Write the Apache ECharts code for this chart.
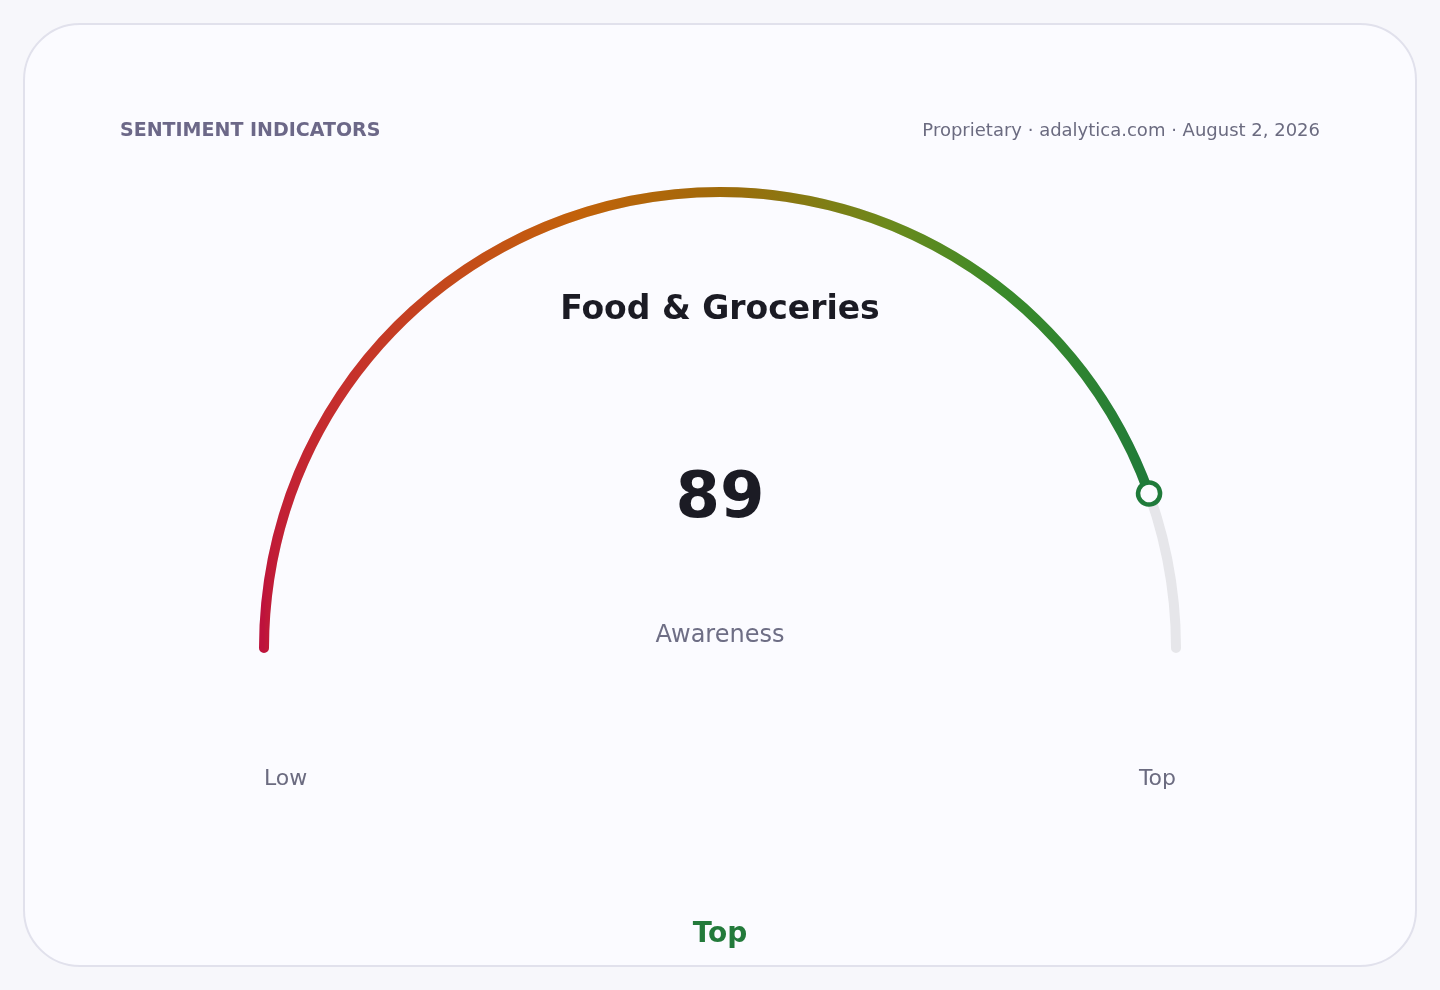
<!DOCTYPE html>
<html>
<head>
<meta charset="utf-8">
<script src="https://cdn.jsdelivr.net/npm/echarts@6/dist/echarts.min.js"></script>
<style>
  html, body { margin: 0; padding: 0; background: #f7f7fb; }
  #chart { width: 1440px; height: 990px; }
</style>
</head>
<body>
<div id="chart"></div>
<script>
// ---- data ----
const gaugeValues = [89];
const gaugeNames = ['Awareness'];
const gaugeMin = 0;
const gaugeMax = 100;
const rangeLabels = ['Low', 'Top'];
const chartTitle = ['Food & Groceries'];
const headerLeft = ['SENTIMENT INDICATORS'];
const headerRight = ['Proprietary · adalytica.com · August 2, 2026'];
const verdictLabels = ['Top'];

// ---- style ----
const FONT = '"DejaVu Sans", "Noto Sans", sans-serif';
const CX = 720, CY = 648, R = 456, LW = 10;
const colorAnchors = [
  [0.00, [190, 18, 60]],
  [0.22, [198, 48, 44]],
  [0.45, [194, 98, 10]],
  [0.56, [160, 106, 10]],
  [0.70, [106, 138, 28]],
  [0.80, [58, 138, 42]],
  [1.00, [31, 122, 58]]
];
function colorAt(f) {
  for (let i = 1; i < colorAnchors.length; i++) {
    const a = colorAnchors[i - 1], b = colorAnchors[i];
    if (f <= b[0]) {
      const t = (f - a[0]) / (b[0] - a[0]);
      const c = a[1].map((v, k) => Math.round(v + (b[1][k] - v) * t));
      return 'rgb(' + c.join(',') + ')';
    }
  }
  const c = colorAnchors[colorAnchors.length - 1][1];
  return 'rgb(' + c.join(',') + ')';
}
// angular gradient along the progress arc, expressed as a global horizontal gradient
const frac = (gaugeValues[0] - gaugeMin) / (gaugeMax - gaugeMin);
const x0 = CX - R;
const x1 = CX + R * Math.cos(Math.PI * (1 - frac));
const stops = [];
for (let i = 0; i <= 80; i++) {
  const f = i / 80;
  const th = Math.PI * (1 - f * frac);
  const x = CX + R * Math.cos(th);
  stops.push({ offset: Math.min(1, Math.max(0, (x - x0) / (x1 - x0))), color: colorAt(f) });
}
const progressGradient = new echarts.graphic.LinearGradient(x0, 0, x1, 0, stops, true);

const chart = echarts.init(document.getElementById('chart'));

function txt(text, x, y, font, fill, align) {
  return {
    type: 'text', x: x, y: y, silent: true,
    style: { text: text, font: font, fill: fill, align: align, textAlign: align,
             verticalAlign: 'middle', textVerticalAlign: 'middle' }
  };
}

const hidden = {
  anchor: { show: false },
  axisTick: { show: false },
  splitLine: { show: false },
  axisLabel: { show: false }
};

chart.setOption({
  backgroundColor: '#f7f7fb',
  graphic: [
    { type: 'rect', z: -10, silent: true,
      shape: { x: 24, y: 24, width: 1392, height: 942, r: 56 },
      style: { fill: '#fbfbff', stroke: '#e1e1ec', lineWidth: 2 } },
    txt(headerLeft[0], 120, 131, 'bold 19px ' + FONT, '#6c6888', 'left'),
    txt(headerRight[0], 1320, 131, '18px ' + FONT, '#6b6b80', 'right'),
    txt(chartTitle[0], 720, 310, 'bold 33px ' + FONT, '#1b1b24', 'center'),
    txt(rangeLabels[0], CX - R, 779, '22px ' + FONT, '#6b6b80', 'left'),
    txt(rangeLabels[1], CX + R, 779, '22px ' + FONT, '#6b6b80', 'right'),
    txt(verdictLabels[0], 720, 935, 'bold 28px ' + FONT, '#237a3b', 'center')
  ],
  series: [Object.assign({
    type: 'gauge',
    z: 2,
    center: [CX, CY],
    radius: R + LW / 2,
    startAngle: 180,
    endAngle: 0,
    min: gaugeMin,
    max: gaugeMax,
    axisLine: { roundCap: true, lineStyle: { width: LW, color: [[1, '#e6e6ea']] } },
    progress: { show: true, width: LW, roundCap: true, itemStyle: { color: progressGradient } },
    pointer: { show: false },
    title: { offsetCenter: [0, -12], fontSize: 24, color: '#6e6e85', fontFamily: FONT },
    detail: { offsetCenter: [0, -148], fontSize: 64, fontWeight: 'bold', color: '#1b1b24',
              fontFamily: FONT, formatter: '{value}' },
    animation: false,
    data: gaugeValues.map((v, i) => ({ value: v, name: gaugeNames[i] }))
  }, hidden), Object.assign({
    type: 'gauge',
    z: 5,
    center: [CX, CY],
    radius: R + LW / 2,
    startAngle: 180,
    endAngle: 0,
    min: gaugeMin,
    max: gaugeMax,
    axisLine: { show: false },
    progress: { show: false },
    pointer: {
      show: true, icon: 'circle', width: 22, length: 22, keepAspect: true,
      offsetCenter: [0, -(R + LW / 2 - 16)],
      itemStyle: { color: '#fbfbff', borderColor: '#1f7a3a', borderWidth: 4.5 }
    },
    title: { show: false },
    detail: { show: false },
    animation: false,
    data: gaugeValues.map((v, i) => ({ value: v, name: gaugeNames[i] }))
  }, hidden)]
});
</script>
</body>
</html>
